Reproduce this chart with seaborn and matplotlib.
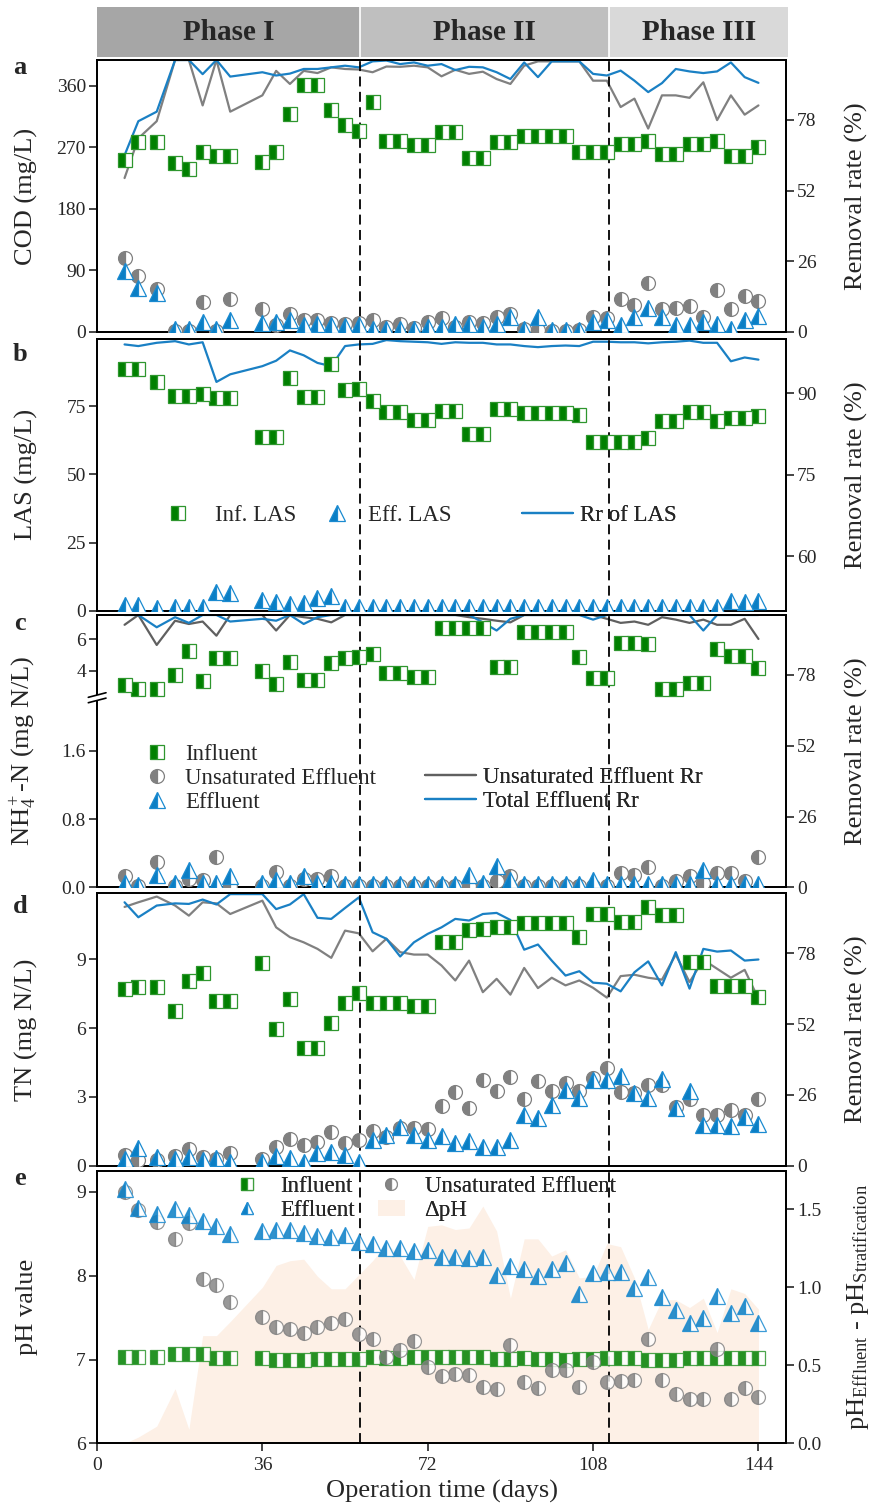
import numpy as np
import matplotlib.pyplot as plt
import seaborn as sns
from matplotlib.patches import Patch, Rectangle
from matplotlib.lines import Line2D
from matplotlib.ticker import FormatStrFormatter

sns.set_style('ticks')
plt.rcParams['font.family'] = ['Liberation Serif', 'DejaVu Serif']
plt.rcParams['mathtext.fontset'] = 'custom'
plt.rcParams['mathtext.rm'] = 'Liberation Serif'
plt.rcParams['mathtext.it'] = 'Liberation Serif:italic'
plt.rcParams['mathtext.bf'] = 'Liberation Serif:bold'

# sampling days (operation time)
days = [6, 9, 13, 17, 20, 23, 26, 29, 36, 39, 42, 45, 48, 51, 54, 57, 60, 63, 66, 69, 72,
        75, 78, 81, 84, 87, 90, 93, 96, 99, 102, 105, 108, 111, 114, 117, 120, 123, 126,
        129, 132, 135, 138, 141, 144]
phase_bounds = [57.3, 111.5]
phase_names = ['Phase I', 'Phase II', 'Phase III']

# a - COD
cod_inf = [251, 278, 278, 248, 238, 263, 258, 258, 249, 263, 319, 362, 362, 325, 303, 294,
           336, 280, 280, 273, 273, 292, 292, 255, 255, 278, 278, 287, 287, 287, 287, 264,
           264, 264, 275, 275, 279, 260, 260, 275, 275, 279, 258, 258, 270]
cod_unsat = [109, 82, 63, 2, 2, 44, 2, 49, 33, 10, 27, 17, 18, 13, 12, 13, 17, 7, 12, 6, 14,
             20, 8, 15, 13, 22, 27, 5, 3, 2, 2, 3, 22, 20, 49, 40, 71, 33, 35, 38, 22, 62,
             33, 52, 46]
cod_eff = [89, 64, 57, 4, 4, 15, 4, 18, 13, 15, 18, 10, 12, 10, 9, 10, 5, 5, 5, 5, 7, 8, 12,
           11, 8, 12, 22, 5, 22, 3, 3, 3, 15, 17, 10, 22, 35, 22, 10, 10, 15, 12, 5, 18, 23]
cod_rr_unsat = [56.6, 71.2, 77.5, 100, 100, 83.3, 100, 81, 87, 96, 91.2, 96, 95.2, 97.3,
                96.7, 96.5, 95.5, 97.6, 97.5, 97.9, 97.3, 94, 96.4, 94.9, 95.7, 93, 91.2,
                97.9, 99.5, 99.5, 99.5, 99.5, 92.4, 92.4, 82.7, 85.8, 74.8, 87, 87, 86.1,
                91.8, 77.9, 87, 79.9, 83.3]
cod_rr_total = [65, 77.5, 81, 100, 100, 94.8, 100, 93.9, 95.5, 94.3, 95, 96.7, 96.7, 97.3,
                97.9, 97.3, 99.5, 99.8, 98.5, 99.1, 97.9, 98.5, 96.3, 97.5, 97.3, 95.5, 93,
                99.1, 93.7, 99.5, 99.5, 99.5, 94.9, 94.3, 96.1, 92.4, 88.2, 91.5, 96.7, 95.8,
                95.2, 95.8, 99.1, 93.7, 91.6]

# b - LAS
las_inf = [88.5, 88.5, 83.7, 78.8, 78.8, 79.3, 78.1, 78.1, 63.6, 63.6, 85.2, 78.4, 78.4,
           90.4, 80.9, 81.3, 76.9, 72.7, 72.7, 69.9, 69.9, 73.2, 73.2, 64.7, 64.7, 73.8,
           73.8, 72.4, 72.4, 72.4, 72.4, 71.7, 62, 62, 62, 62, 63.4, 69.6, 69.6, 72.7, 72.7,
           69.6, 70.8, 70.8, 71.5]
las_eff = [2, 2, 1, 1.5, 1.5, 1.5, 7, 6.4, 3.9, 3.3, 2.4, 2.9, 4.5, 5.4, 1.5, 1.3, 1.3, 1.3,
           1.3, 1.3, 1.3, 1.3, 1.3, 1.3, 1.3, 1.3, 1.3, 1.3, 1.3, 1.3, 1.3, 1.3, 1.3, 1.3,
           1.3, 1.3, 1.3, 1.3, 1.3, 1.3, 1.3, 1.3, 3.7, 3.3, 3.7]
las_rr = [99, 98.7, 99.3, 99.6, 99, 99.4, 92.1, 93.5, 95, 96, 97.9, 97, 95.6, 95, 98.7, 99,
          99.1, 99.8, 99.6, 99.5, 99.4, 99.1, 99.4, 99.3, 99.3, 99, 99, 98.7, 98.5, 98.7,
          98.8, 98.7, 99.5, 99.5, 99.4, 99.4, 99.2, 99.4, 99.5, 99.7, 99.3, 99.3, 95.9,
          96.6, 96.2]

# c - NH4+-N
nh4_inf = [3.09, 2.82, 2.82, 3.73, 5.25, 3.34, 4.79, 4.79, 3.98, 3.15, 4.57, 3.41, 3.41,
           4.51, 4.83, 4.89, 5.04, 3.83, 3.83, 3.58, 3.58, 6.7, 6.7, 6.7, 6.7, 4.25, 4.25,
           6.45, 6.45, 6.45, 6.45, 4.89, 3.51, 3.51, 5.78, 5.78, 5.68, 2.82, 2.82, 3.24,
           3.24, 5.36, 4.94, 4.94, 4.15]
nh4_unsat = [0.13, 0.02, 0.30, 0.02, 0.10, 0.09, 0.36, 0.02, 0.02, 0.18, 0.02, 0.10, 0.10,
             0.13, 0.02, 0.02, 0.02, 0.02, 0.02, 0.02, 0.02, 0.02, 0.02, 0.02, 0.02, 0.07,
             0.13, 0.02, 0.02, 0.02, 0.02, 0.02, 0.02, 0.02, 0.17, 0.14, 0.24, 0.02, 0.07,
             0.13, 0.05, 0.17, 0.17, 0.07, 0.36]
nh4_eff = [0.05, 0.03, 0.14, 0.05, 0.20, 0.05, 0.05, 0.13, 0.05, 0.09, 0.05, 0.13, 0.05,
           0.05, 0.04, 0.04, 0.04, 0.04, 0.04, 0.04, 0.04, 0.04, 0.04, 0.15, 0.05, 0.25,
           0.09, 0.04, 0.04, 0.04, 0.04, 0.04, 0.09, 0.04, 0.04, 0.04, 0.04, 0.04, 0.04,
           0.04, 0.20, 0.04, 0.04, 0.04, 0.04]
nh4_rr_unsat = [96.4, 100, 89, 97.9, 96.7, 97.6, 92.4, 100, 100, 94.3, 100, 99.2, 98.6,
                97.3, 100, 100, 100, 100, 100, 100, 100, 100, 100, 99.2, 98.6, 97.9, 97.3,
                100, 100, 100, 100, 100, 100, 98.6, 97.1, 97.6, 96.4, 99.2, 98.3, 97.1,
                98.3, 96.4, 96.4, 98.6, 91.2]
nh4_rr_total = [100, 100, 95.5, 99.2, 97.1, 100, 100, 97.6, 98.6, 97.9, 100, 96.7, 99.2,
                100, 100, 100, 100, 100, 100, 100, 100, 100, 100, 100, 97.3, 94.3, 98.6,
                100, 100, 100, 100, 100, 98.3, 100, 100, 100, 100, 100, 100, 100, 94.3, 100,
                100, 100, 100]

# d - TN
tn_inf = [7.69, 7.78, 7.78, 6.75, 8.07, 8.42, 7.18, 7.18, 8.85, 5.96, 7.26, 5.12, 5.12,
          6.24, 7.11, 7.55, 7.11, 7.08, 7.08, 6.96, 6.96, 9.74, 9.74, 10.28, 10.31, 10.42,
          10.42, 10.6, 10.6, 10.6, 10.6, 9.96, 10.96, 10.96, 10.64, 10.64, 11.3, 10.93,
          10.93, 8.9, 8.9, 7.84, 7.84, 7.84, 7.34]
tn_unsat = [0.47, 0.25, 0.25, 0.42, 0.71, 0.38, 0.3, 0.57, 0.3, 0.83, 1.15, 0.9, 1.05,
            1.48, 0.98, 1.12, 1.53, 1.27, 1.63, 1.63, 1.58, 2.6, 3.2, 2.53, 3.74, 3.27,
            3.88, 2.9, 3.7, 3.27, 3.62, 3.27, 3.81, 4.25, 3.23, 3.16, 3.52, 3.52, 2.57, 2.9,
            2.21, 2.21, 2.43, 2.21, 2.9]
tn_eff = [0.3, 0.76, 0.38, 0.3, 0.38, 0.25, 0.35, 0.18, 0.18, 0.42, 0.35, 0.15, 0.54, 0.61,
          0.47, 0.15, 1.12, 1.34, 1.7, 1.34, 1.12, 1.29, 0.98, 1.09, 0.83, 0.83, 1.12, 2.21,
          2.07, 2.65, 3.3, 2.94, 3.74, 3.74, 3.91, 3.16, 2.94, 3.77, 2.5, 3.27, 1.78, 1.78,
          1.74, 2.11, 1.83]
tn_rr_unsat = [95, 96.7, 98.8, 95.5, 91.8, 96.7, 96.3, 92.4, 97.3, 87.5, 83.9, 82, 79.6,
               76.3, 86.3, 85.3, 78.7, 83.3, 78.4, 77.5, 77.5, 73.5, 68, 75.3, 63.7, 68.6,
               62.8, 72.6, 65.2, 69, 66.2, 68, 65.3, 61.7, 69.6, 70.1, 69, 68.3, 77.5, 67.4,
               75.6, 72.3, 69, 71.9, 61.3]
tn_rr_total = [96.7, 91.2, 95.5, 96.3, 96.1, 97.7, 95.9, 99.7, 99.7, 94.2, 95.9, 99.7, 91,
               90.6, 94.6, 98.5, 85.7, 83.3, 76.8, 82, 85.1, 87.5, 90.6, 90, 92.4, 92.8,
               90.2, 79.3, 81.2, 75.3, 69.8, 71.4, 67.2, 66.8, 64, 71, 75, 66.2, 78.4, 65,
               79.6, 78.6, 79, 75.3, 75.7]

# e - pH
ph_inf = [7.03, 7.03, 7.03, 7.07, 7.07, 7.07, 7.02, 7.02, 7.02, 7.0, 7.0, 7.0, 7.01, 7.01,
          7.01, 7.01, 7.03, 7.02, 7.02, 7.03, 7.03, 7.03, 7.03, 7.03, 7.03, 7.01, 7.01,
          7.02, 7.01, 7.01, 7.0, 7.01, 7.01, 7.02, 7.02, 7.02, 7.0, 7.0, 7.0, 7.02, 7.02,
          7.02, 7.02, 7.02, 7.02]
ph_unsat = [9.0, 8.78, 8.64, 8.44, 8.63, 7.96, 7.89, 7.69, 7.51, 7.39, 7.37, 7.32, 7.39,
            7.44, 7.48, 7.31, 7.24, 7.03, 7.11, 7.22, 6.91, 6.8, 6.83, 6.81, 6.67, 6.65,
            7.17, 6.73, 6.66, 6.87, 6.88, 6.67, 6.97, 6.73, 6.74, 6.75, 7.24, 6.75, 6.59,
            6.53, 6.53, 7.13, 6.53, 6.66, 6.55]
ph_eff = [9.03, 8.81, 8.74, 8.8, 8.72, 8.65, 8.59, 8.5, 8.53, 8.54, 8.55, 8.51, 8.48, 8.46,
          8.49, 8.4, 8.38, 8.33, 8.33, 8.3, 8.31, 8.22, 8.22, 8.21, 8.22, 8.01, 8.12, 8.08,
          8.0, 8.08, 8.15, 7.78, 8.03, 8.05, 8.04, 7.85, 7.99, 7.75, 7.59, 7.43, 7.5, 7.76,
          7.55, 7.64, 7.43]
delta_ph = [0.0, 0.04, 0.11, 0.35, 0.09, 0.69, 0.69, 0.78, 1.0, 1.14, 1.17, 1.18, 1.07,
            0.99, 0.99, 1.08, 1.17, 1.28, 1.2, 1.05, 1.39, 1.4, 1.37, 1.38, 1.52, 1.36, 0.93,
            1.31, 1.31, 1.2, 1.24, 1.06, 1.07, 1.28, 1.26, 1.06, 0.73, 0.92, 0.92, 0.87,
            0.93, 0.71, 0.99, 0.96, 0.86]

GREEN, GREEN_E = '#008000', '#2e962e'
BLUE, BLUE_E = '#0a7ec4', '#1a8ad0'
GREY = '#808080'
LBLUE, LGREY = '#1a80c4', '#808080'
FILL = '#fdf0e6'

MK = {
    'inf': dict(marker='s', markersize=9.5, markerfacecolor=GREEN, markeredgecolor=GREEN_E),
    'unsat': dict(marker='o', markersize=10, markerfacecolor=GREY, markeredgecolor=GREY),
    'eff': dict(marker='^', markersize=11, markerfacecolor=BLUE, markeredgecolor=BLUE_E),
}

TICK_FS, LAB_FS, LEG_FS = 14, 19, 16.5


def points(ax, y, kind, alpha=1.0):
    sns.lineplot(x=days, y=y, ax=ax, errorbar=None, linestyle='none', fillstyle='left',
                 markerfacecoloralt='white', markeredgewidth=0.9, alpha=alpha, zorder=3,
                 **MK[kind])
    return ax.lines[-1]


def rr_line(ax, y, color):
    sns.lineplot(x=days, y=y, ax=ax, errorbar=None, color=color, linewidth=1.6)
    return ax.lines[-1]


def legend_at(ax, handles, labels, x_px, y_frac, hl, pad, **kw):
    leg = ax.legend(handles, labels, loc='center left',
                    bbox_to_anchor=((x_px - 97) / 689, y_frac), frameon=False,
                    borderpad=0, borderaxespad=0, handlelength=hl, handletextpad=pad,
                    fontsize=LEG_FS, **kw)
    ax.add_artist(leg)
    return leg


fig = plt.figure(figsize=(8.72, 15.07), dpi=100)
L, W = 97 / 872, 689 / 872


def box(top, bot):
    return [L, 1 - bot / 1507, W, (bot - top) / 1507]


panels = [(60, 332), (339, 610.7), (615, 887.3), (893.3, 1165.7), (1171, 1443.3)]
axes, twins = [], []
for top, bot in panels:
    ax = fig.add_axes(box(top, bot))
    tw = ax.twinx()
    ax.set_zorder(tw.get_zorder() + 1)
    ax.patch.set_visible(False)
    axes.append(ax)
    twins.append(tw)
ax_a, ax_b, ax_c, ax_d, ax_e = axes
tw_a, tw_b, tw_c, tw_d, tw_e = twins

# phase bar
axp = fig.add_axes([L, 1 - 57 / 1507, 691 / 872, 50 / 1507])
edges = [0] + phase_bounds + [150.4]
for i, col in enumerate(['#a6a6a6', '#bfbfbf', '#d9d9d9']):
    axp.axvspan(edges[i], edges[i + 1], color=col, lw=0)
    axp.text((edges[i] + edges[i + 1]) / 2, 0.48, phase_names[i], ha='center', va='center',
             fontsize=21, fontweight='bold')
for b in phase_bounds:
    axp.axvline(b, color='white', lw=1.2)
axp.set_xlim(0, 150.4)
axp.set_ylim(0, 1)
axp.axis('off')

# a COD
rr_line(tw_a, cod_rr_unsat, LGREY)
rr_line(tw_a, cod_rr_total, LBLUE)
points(ax_a, cod_inf, 'inf')
points(ax_a, cod_unsat, 'unsat')
points(ax_a, cod_eff, 'eff')
ax_a.set_ylim(0, 398)
ax_a.set_yticks([0, 90, 180, 270, 360])
tw_a.set_ylim(0, 100)
tw_a.set_yticks([0, 26, 52, 78])
ax_a.set_ylabel('COD (mg/L)')

# b LAS
h_lrr = rr_line(tw_b, las_rr, LBLUE)
h_linf = points(ax_b, las_inf, 'inf')
h_leff = points(ax_b, las_eff, 'eff')
ax_b.set_ylim(0, 99.6)
ax_b.set_yticks([0, 25, 50, 75])
tw_b.set_ylim(50, 100)
tw_b.set_yticks([60, 75, 90])
ax_b.set_ylabel('LAS (mg/L)')
yb = 0.352
legend_at(ax_b, [h_linf], ['Inf. LAS'], 152, yb, 2.23, 0.5)
legend_at(ax_b, [h_leff], ['Eff. LAS'], 311, yb, 2.23, 0.25)
legend_at(ax_b, [h_lrr], ['Rr of LAS'], 522, yb, 2.23, 0.3)

# c NH4 with broken axis
B, R = 2.212, 0.184


def fwd(y):
    y = np.asarray(y, float)
    return np.where(y <= B, y, B + (y - B) * R)


def inv(d):
    d = np.asarray(d, float)
    return np.where(d <= B, d, B + (d - B) / R)


ax_c.set_yscale('function', functions=(fwd, inv))
h_nu = rr_line(tw_c, nh4_rr_unsat, '#606060')
h_nt = rr_line(tw_c, nh4_rr_total, LBLUE)
h_ni = points(ax_c, nh4_inf, 'inf')
h_nc = points(ax_c, nh4_unsat, 'unsat')
h_ne = points(ax_c, nh4_eff, 'eff')
ax_c.set_ylim(0, 7.55)
ax_c.set_yticks([0, 0.8, 1.6, 4, 6])
ax_c.set_yticklabels(['0.0', '0.8', '1.6', '4', '6'])
tw_c.set_ylim(0, 100)
tw_c.set_yticks([0, 26, 52, 78])
ax_c.set_ylabel('NH$_4^+$-N (mg N/L)')
legend_at(ax_c, [h_ni, h_nc, h_ne], ['Influent', 'Unsaturated Effluent', 'Effluent'],
          140, 0.3996, 1.5, 0.48, labelspacing=0.15)
legend_at(ax_c, [h_nu, h_nt], ['Unsaturated Effluent Rr', 'Total Effluent Rr'],
          425, 0.359, 2.23, 0.3, labelspacing=0.15)
# break mark on the left spine
bf = float(fwd(B) / fwd(7.55))
px, py = 1 / 689, 1 / 272.3
ax_c.add_patch(Rectangle((-2.5 * px, bf - 1.5 * py), 5 * px, 5.2 * py, transform=ax_c.transAxes,
                         facecolor='white', edgecolor='none', clip_on=False, zorder=10))
for off in (1.4, -4.0):
    ax_c.add_line(Line2D([-8.7 * px, 9 * px], [bf + off * py, bf + (off + 4.6) * py],
                         transform=ax_c.transAxes, color='black', lw=1.2, clip_on=False,
                         zorder=11))

# d TN
rr_line(tw_d, tn_rr_unsat, LGREY)
rr_line(tw_d, tn_rr_total, LBLUE)
points(ax_d, tn_inf, 'inf')
points(ax_d, tn_unsat, 'unsat')
points(ax_d, tn_eff, 'eff')
ax_d.set_ylim(0, 11.88)
ax_d.set_yticks([0, 3, 6, 9])
tw_d.set_ylim(0, 100)
tw_d.set_yticks([0, 26, 52, 78])
ax_d.set_ylabel('TN (mg N/L)')

# e pH
tw_e.fill_between(days, 0, delta_ph, color=FILL, lw=0)
h_pi = points(ax_e, ph_inf, 'inf', alpha=0.85)
h_pc = points(ax_e, ph_unsat, 'unsat', alpha=0.8)
h_pe = points(ax_e, ph_eff, 'eff', alpha=0.85)
ax_e.set_ylim(6, 9.25)
ax_e.set_yticks([6, 7, 8, 9])
tw_e.set_ylim(0, 1.745)
tw_e.set_yticks([0, 0.5, 1.0, 1.5])
tw_e.yaxis.set_major_formatter(FormatStrFormatter('%.1f'))
ax_e.set_ylabel('pH value')
tw_e.set_ylabel('pH$_{\\rm Effluent}$ - pH$_{\\rm Stratification}$', fontsize=LAB_FS)
legend_at(ax_e, [h_pi, h_pe, h_pc, Patch(facecolor=FILL, edgecolor='none')],
          ['Influent', 'Effluent', 'Unsaturated Effluent', '\u0394pH'],
          233, 0.899, 1.2, 0.85, ncol=2, columnspacing=1.0, labelspacing=0.15,
          markerscale=0.85)
ax_e.set_xticks([0, 36, 72, 108, 144])
ax_e.set_xlabel('Operation time (days)', fontsize=LAB_FS, labelpad=4)

labels_y = [74, 361, 630, 913, 1185]
for ax, tw, lab, yl in zip(axes, twins, 'abcde', labels_y):
    ax.set_xlim(0, 150)
    for b in phase_bounds:
        ax.axvline(b, color='black', ls=(0, (5.5, 3)), lw=1.3, zorder=2)
    if ax is not ax_e:
        ax.tick_params(axis='x', bottom=False, labelbottom=False)
        ax.set_xlabel('')
    if tw is not tw_e:
        tw.set_ylabel('Removal rate (%)', fontsize=LAB_FS)
    ax.yaxis.label.set_size(LAB_FS)
    ax.yaxis.set_label_coords(-0.0856, 0.5)
    tw.yaxis.set_label_coords(1.0856, 0.5)
    for a in (ax, tw):
        a.tick_params(direction='out', length=6, width=1.2, labelsize=TICK_FS, pad=2)
        for s in a.spines.values():
            s.set_linewidth(1.3)
            s.set_color('black')
    fig.text(20 / 872, 1 - yl / 1507, lab, ha='center', va='baseline', fontsize=19,
             fontweight='bold')
ax_e.tick_params(axis='x', pad=4)

fig.savefig('out.png', dpi=100)
